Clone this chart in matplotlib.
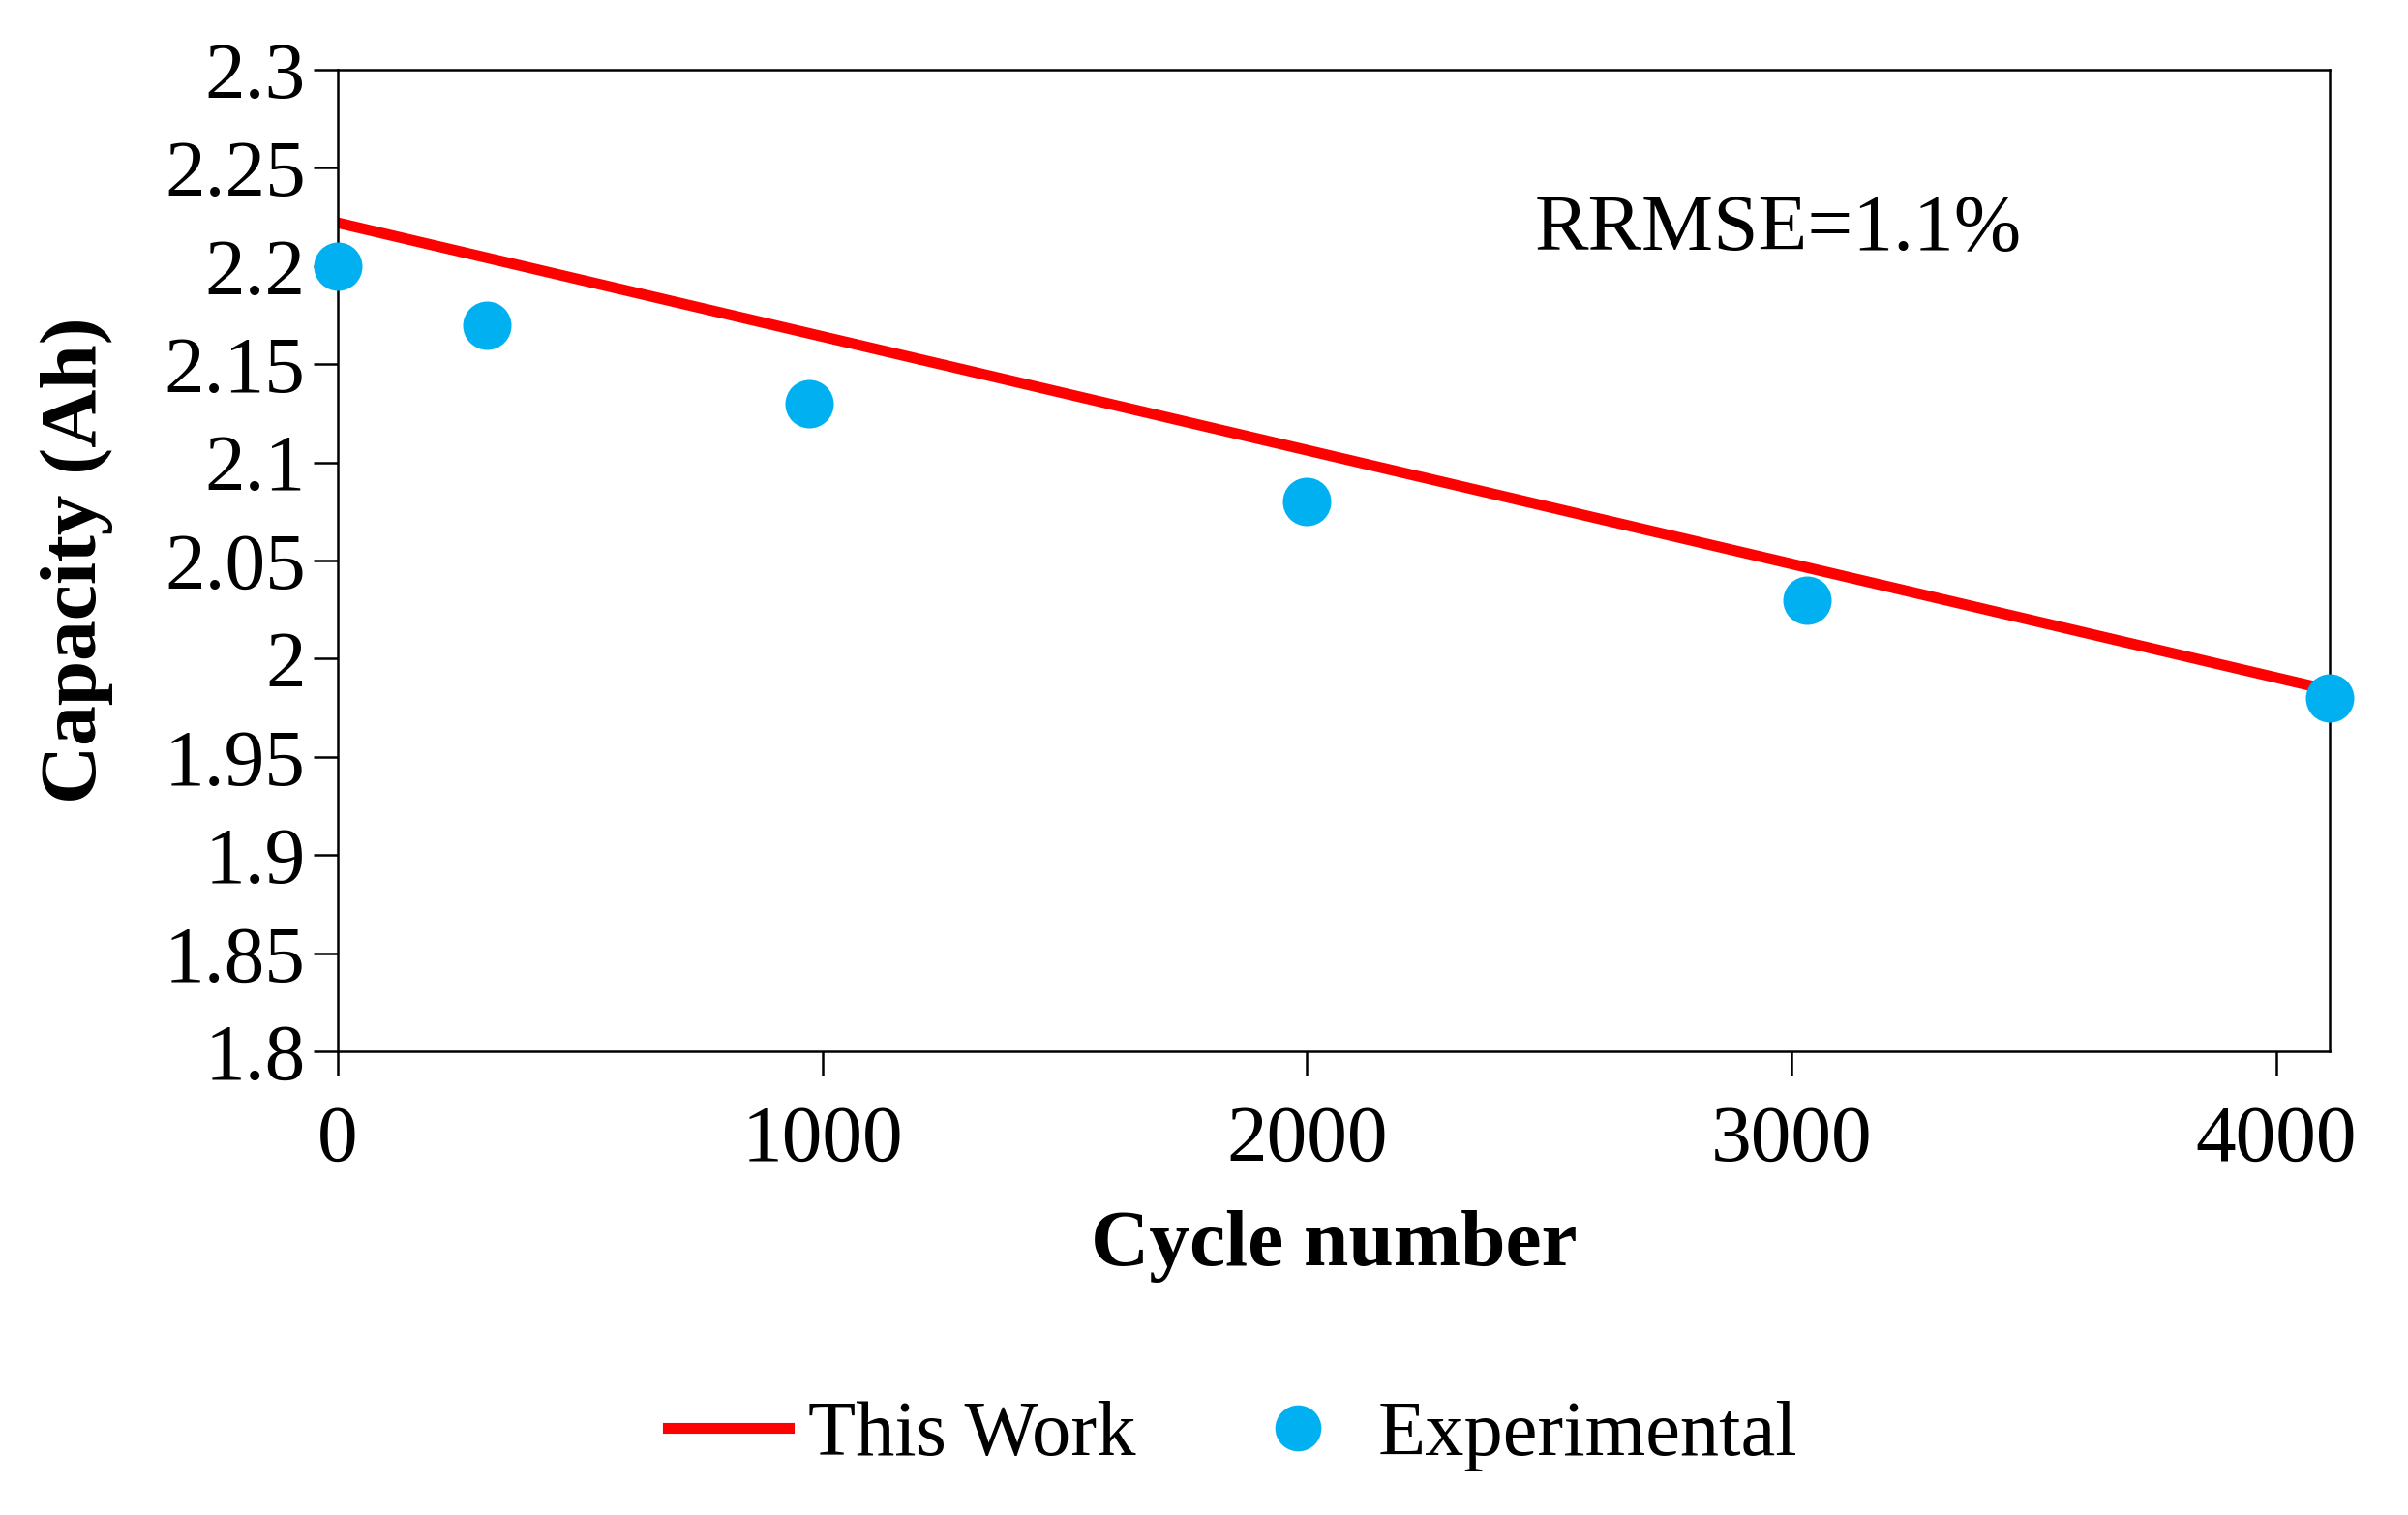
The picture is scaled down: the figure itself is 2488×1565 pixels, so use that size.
import matplotlib.pyplot as plt

# data
cycles_exp = [0, 307, 973, 2000, 3033, 4111]
capacity_exp = [2.20, 2.17, 2.13, 2.08, 2.03, 1.98]
cycles_model = [0, 4111]
capacity_model = [2.222, 1.984]

y_ticks = [1.8, 1.85, 1.9, 1.95, 2.0, 2.05, 2.1, 2.15, 2.2, 2.25, 2.3]
y_labels = ['1.8', '1.85', '1.9', '1.95', '2', '2.05', '2.1', '2.15', '2.2', '2.25', '2.3']
x_ticks = [0, 1000, 2000, 3000, 4000]
x_labels = ['0', '1000', '2000', '3000', '4000']

plt.rcParams['font.family'] = ['Liberation Serif', 'DejaVu Serif']

fig = plt.figure(figsize=(12.44, 7.825), dpi=200)
ax = fig.add_axes([0.1403, 0.306, 0.8272, 0.648])

ax.plot(cycles_model, capacity_model, color='#FF0000', lw=4, label='This Work', zorder=2)
ax.plot(cycles_exp, capacity_exp, 'o', color='#00B0F0', ms=17, label='Experimental',
        clip_on=False, zorder=3)

ax.set_xlim(0, 4111)
ax.set_ylim(1.8, 2.3)
ax.set_yticks(y_ticks)
ax.set_yticklabels(y_labels)
ax.set_xticks(x_ticks)
ax.set_xticklabels(x_labels)

for s in ax.spines.values():
    s.set_linewidth(0.9)
ax.tick_params(axis='y', direction='out', length=9, width=0.9, pad=3, labelsize=30)
ax.tick_params(axis='x', direction='out', length=9, width=0.9, pad=11, labelsize=30)

ax.set_xlabel('Cycle number', fontsize=30, fontweight='bold', labelpad=12)
ax.set_ylabel('Capacity (Ah)', fontsize=30, fontweight='bold', labelpad=19)

ax.text(0.601, 0.836, 'RRMSE=1.1%', transform=ax.transAxes, fontsize=30, va='center')

fig.legend(loc='center', bbox_to_anchor=(0.512, 0.052), ncol=2, frameon=False,
           fontsize=29, handlelength=1.55, handletextpad=0.25, columnspacing=1.3,
           markerscale=0.95)

fig.savefig('out.png', dpi=200)
